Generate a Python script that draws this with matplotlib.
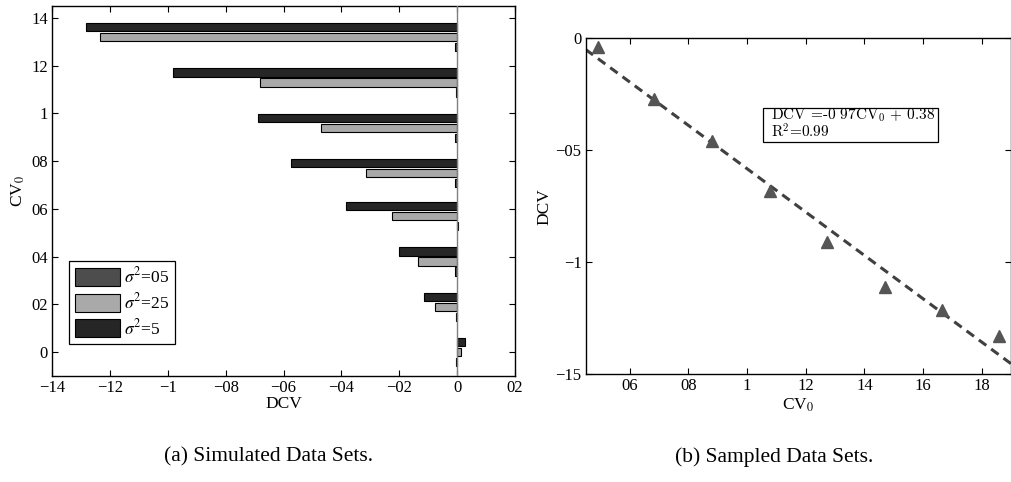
import matplotlib
matplotlib.use("Agg")
import matplotlib.pyplot as plt
import matplotlib.patches as patches
import numpy as np

plt.rcParams['font.family'] = ['Liberation Serif', 'DejaVu Serif']
plt.rcParams['mathtext.fontset'] = 'stix'

# (a) simulated data sets: DCV per CV0 group, one series per sigma^2
cv0_groups = [0.0, 0.19, 0.38, 0.57, 0.75, 0.94, 1.13, 1.32]
dcv_s05 = [-0.003, -0.003, -0.006, 0.003, -0.009, -0.007, -0.005, -0.009]
dcv_s25 = [0.013, -0.075, -0.134, -0.224, -0.316, -0.471, -0.680, -1.234]
dcv_s5 = [0.026, -0.115, -0.202, -0.383, -0.574, -0.689, -0.982, -1.282]
series_labels = [r'$\sigma^2$=05', r'$\sigma^2$=25', r'$\sigma^2$=5']
series_colors = ['#4d4d4d', '#a9a9a9', '#262626']

left_xticks = [-1.4, -1.2, -1.0, -0.8, -0.6, -0.4, -0.2, 0.0, 0.2]
left_xlabels = ['\u221214', '\u221212', '\u22121', '\u221208', '\u221206',
                '\u221204', '\u221202', '0', '02']
left_yticks = [0, 0.2, 0.4, 0.6, 0.8, 1.0, 1.2, 1.4]
left_ylabels = ['0', '02', '04', '06', '08', '1', '12', '14']

# (b) sampled data sets
cv0_sampled = [0.491, 0.683, 0.880, 1.077, 1.273, 1.469, 1.664, 1.860]
dcv_sampled = [-0.038, -0.272, -0.457, -0.682, -0.912, -1.112, -1.213, -1.329]

right_xticks = [0.6, 0.8, 1.0, 1.2, 1.4, 1.6, 1.8]
right_xlabels = ['06', '08', '1', '12', '14', '16', '18']
right_yticks = [0, -0.5, -1.0, -1.5]
right_ylabels = ['0', '\u221205', '\u22121', '\u221215']

FS = 12
LFS = 12.5

fig = plt.figure(figsize=(10.12, 4.82), dpi=100)
ax1 = fig.add_axes([0.0514, 0.2199, 0.4575, 0.7676])
ax2 = fig.add_axes([0.5787, 0.2241, 0.4205, 0.6964])

# --- left panel: grouped horizontal bars
bar_h = 0.035
offsets = [-0.042, 0.0, 0.042]
y = np.array(cv0_groups)
for vals, off, col, lab in zip([dcv_s05, dcv_s25, dcv_s5], offsets,
                               series_colors, series_labels):
    ax1.barh(y + off, vals, height=bar_h, color=col, edgecolor='black',
             linewidth=0.8, label=lab, zorder=2)
ax1.axvline(0, color='#808080', linewidth=1.0, zorder=3)

ax1.set_xlim(-1.4, 0.2)
ax1.set_ylim(-0.1, 1.45)
ax1.set_xticks(left_xticks)
ax1.set_xticklabels(left_xlabels)
ax1.set_yticks(left_yticks)
ax1.set_yticklabels(left_ylabels)
ax1.set_xlabel('DCV', fontsize=LFS, labelpad=0)
ax1.set_ylabel('CV$_0$', fontsize=LFS, labelpad=3)

leg = ax1.legend(loc='upper left', bbox_to_anchor=(0.0367, 0.3116),
                 borderaxespad=0, fontsize=12.5, handlelength=2.6,
                 handleheight=1.2, labelspacing=0.33, borderpad=0.35,
                 handletextpad=0.2, fancybox=False, framealpha=1,
                 edgecolor='black')
leg.get_frame().set_linewidth(0.9)

# --- right panel: sampled points with linear fit
slope, intercept = np.polyfit(cv0_sampled, dcv_sampled, 1)
ax2.set_xlim(0.45, 1.9)
ax2.set_ylim(-1.5, 0)
xl = np.array(ax2.get_xlim())
ax2.plot(xl, slope * xl + intercept, color='#404040', linewidth=2.2,
         linestyle=(0, (3, 2)), zorder=2)
ax2.plot(cv0_sampled, dcv_sampled, linestyle='none', marker='^',
         markersize=9, color='#555555', zorder=3)

ax2.set_xticks(right_xticks)
ax2.set_xticklabels(right_xlabels)
ax2.set_yticks(right_yticks)
ax2.set_yticklabels(right_ylabels)
ax2.set_xlabel('CV$_0$', fontsize=LFS, labelpad=2)
ax2.set_ylabel('DCV', fontsize=LFS, labelpad=2)

box = patches.Rectangle((0.417, 0.692), 0.411, 0.1013, transform=ax2.transAxes,
                        facecolor='white', edgecolor='black', linewidth=0.9,
                        zorder=4)
ax2.add_patch(box)
ax2.text(0.4345, 0.757, 'DCV =-0 97CV$_0$ + 0.38', transform=ax2.transAxes,
         fontsize=11, family='cmr10', math_fontfamily='cm',
         va='baseline', ha='left', zorder=5)
ax2.text(0.4345, 0.703, 'R$^2$=0.99', transform=ax2.transAxes,
         fontsize=11, family='cmr10', math_fontfamily='cm',
         va='baseline', ha='left', zorder=5)

for ax in (ax1, ax2):
    ax.tick_params(direction='in', length=4, width=0.8, top=True, right=True,
                   labelsize=FS, pad=3)
    for s in ax.spines.values():
        s.set_linewidth(1.0)

fig.text(268 / 1012, 1 - 457 / 482, '(a) Simulated Data Sets.', fontsize=15.5,
         ha='center', va='center')
fig.text(774.5 / 1012, 1 - 457 / 482, '(b) Sampled Data Sets.', fontsize=15.5,
         ha='center', va='center')

fig.savefig('out.png', dpi=100)
